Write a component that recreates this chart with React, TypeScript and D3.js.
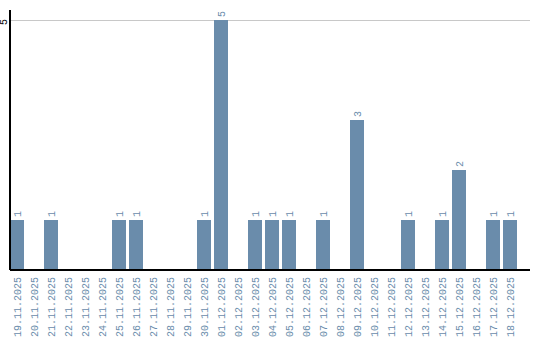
import React from "react";
import * as d3 from "d3";

const dates = [
  "19.11.2025","20.11.2025","21.11.2025","22.11.2025","23.11.2025","24.11.2025",
  "25.11.2025","26.11.2025","27.11.2025","28.11.2025","29.11.2025","30.11.2025",
  "01.12.2025","02.12.2025","03.12.2025","04.12.2025","05.12.2025","06.12.2025",
  "07.12.2025","08.12.2025","09.12.2025","10.12.2025","11.12.2025","12.12.2025",
  "13.12.2025","14.12.2025","15.12.2025","16.12.2025","17.12.2025","18.12.2025",
];
const counts = [1,0,1,0,0,0,1,1,0,0,0,1,5,0,1,1,1,0,1,0,3,0,0,1,0,1,2,0,1,1];
const yTicks = [5];

const W = 540, H = 340;
const left = 10, right = 530, top = 20, bottom = 270;
const barColor = "#6a8cab";
const textColor = "#6a8cab";
const font = "'Liberation Mono', monospace";

export default function App() {
  const x = d3.scaleBand<string>().domain(dates).range([left, left + dates.length * 17 - 3]).paddingInner(3 / 17).paddingOuter(0);
  const y = d3.scaleLinear().domain([0, 5]).range([bottom, top]);
  return (
    <svg width={W} height={H} style={{ position: "absolute", left: 0, top: 0 }}>
      {yTicks.map((t) => (
        <g key={t}>
          <line x1={left} x2={right} y1={y(t)} y2={y(t)} stroke="#c8c8c8" strokeWidth={1} shapeRendering="crispEdges" />
          <text transform={`translate(7,${y(t) + 2}) rotate(-90)`} textAnchor="middle" fontFamily={font} fontSize={10} fill="#000">{t}</text>
        </g>
      ))}
      {dates.map((d, i) => {
        const v = counts[i];
        const cx = (x(d) as number) + x.bandwidth() / 2 + 3.5;
        return (
          <g key={d}>
            {v > 0 && (
              <>
                <rect x={x(d)} y={y(v)} width={x.bandwidth()} height={y(0) - y(v)} fill={barColor} shapeRendering="crispEdges" />
                <text transform={`translate(${cx},${y(v) - 3}) rotate(-90)`} textAnchor="start" fontFamily={font} fontSize={10} fill={textColor}>{v}</text>
              </>
            )}
            <text transform={`translate(${cx},277) rotate(-90)`} textAnchor="end" fontFamily={font} fontSize={10} fill={textColor}>{d}</text>
          </g>
        );
      })}
      <line x1={left} x2={left} y1={10} y2={bottom} stroke="#000" strokeWidth={1.5} shapeRendering="crispEdges" />
      <line x1={left} x2={right} y1={bottom} y2={bottom} stroke="#000" strokeWidth={1.5} shapeRendering="crispEdges" />
    </svg>
  );
}
